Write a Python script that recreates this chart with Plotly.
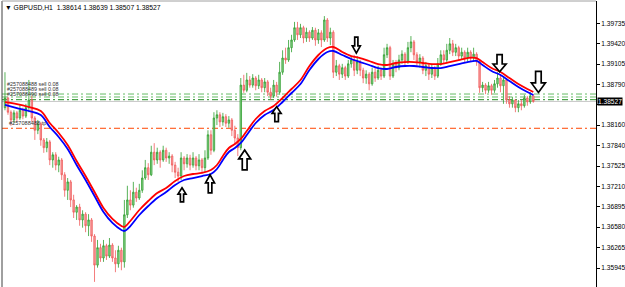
import plotly.graph_objects as go

# ---------------- data ----------------
symbol = "GBPUSD,H1"
first_open = 1.3843
closes = [
    1.3858, 1.3836, 1.3824, 1.3835, 1.3827, 1.3839, 1.3830, 1.3843, 1.3855, 1.3827,
    1.3808, 1.3818, 1.3793, 1.3781, 1.3790, 1.3762, 1.3770, 1.3754, 1.3762, 1.3739,
    1.3715, 1.3728, 1.3700, 1.3681, 1.3689, 1.3669, 1.3678, 1.3660, 1.3669, 1.3644,
    1.3599, 1.3626, 1.3610, 1.3629, 1.3613, 1.3630, 1.3610, 1.3601, 1.3622, 1.3604,
    1.3677, 1.3700, 1.3692, 1.3712, 1.3703, 1.3715, 1.3734, 1.3750, 1.3739, 1.3774,
    1.3762, 1.3774, 1.3762, 1.3777, 1.3765, 1.3768, 1.3754, 1.3743, 1.3737, 1.3765,
    1.3756, 1.3765, 1.3754, 1.3765, 1.3753, 1.3762, 1.3750, 1.3765, 1.3801, 1.3777,
    1.3827, 1.3832, 1.3821, 1.3829, 1.3819, 1.3824, 1.3808, 1.3796, 1.3781, 1.3878,
    1.3870, 1.3886, 1.3878, 1.3889, 1.3877, 1.3886, 1.3874, 1.3883, 1.3867, 1.3861,
    1.3878, 1.3867, 1.3898, 1.3920, 1.3917, 1.3936, 1.3948, 1.3967, 1.3956, 1.3967,
    1.3951, 1.3960, 1.3951, 1.3963, 1.3948, 1.3959, 1.3948, 1.3979, 1.3951, 1.3960,
    1.3898, 1.3908, 1.3895, 1.3905, 1.3892, 1.3911, 1.3917, 1.3901, 1.3914, 1.3901,
    1.3889, 1.3895, 1.3880, 1.3898, 1.3889, 1.3901, 1.3892, 1.3925, 1.3936, 1.3892,
    1.3911, 1.3905, 1.3917, 1.3926, 1.3914, 1.3936, 1.3945, 1.3925, 1.3914, 1.3920,
    1.3901, 1.3908, 1.3895, 1.3905, 1.3892, 1.3911, 1.3925, 1.3917, 1.3932, 1.3942,
    1.3929, 1.3936, 1.3923, 1.3929, 1.3920, 1.3929, 1.3920, 1.3926, 1.3914, 1.3874,
    1.3878, 1.3870, 1.3877, 1.3870, 1.3880, 1.3889, 1.3877, 1.3886, 1.3855, 1.3849,
    1.3855, 1.3843, 1.3849, 1.3846, 1.3858, 1.3852, 1.38614, 1.38527,
]
highs = [
    1.3898, 1.3860, 1.3839, 1.3839, 1.3838, 1.3847, 1.3843, 1.3849, 1.3886, 1.3861,
    1.3830, 1.3824, 1.3821, 1.3796, 1.3796, 1.3793, 1.3774, 1.3774, 1.3767, 1.3765,
    1.3743, 1.3734, 1.3731, 1.3708, 1.3692, 1.3694, 1.3684, 1.3681, 1.3678, 1.3672,
    1.3647, 1.3638, 1.3632, 1.3638, 1.3632, 1.3641, 1.3633, 1.3622, 1.3629, 1.3626,
    1.3700, 1.3722, 1.3715, 1.3728, 1.3719, 1.3725, 1.3746, 1.3762, 1.3757, 1.3784,
    1.3788, 1.3781, 1.3777, 1.3784, 1.3781, 1.3774, 1.3771, 1.3759, 1.3750, 1.3774,
    1.3768, 1.3771, 1.3770, 1.3774, 1.3768, 1.3771, 1.3765, 1.3777, 1.3808, 1.3808,
    1.3836, 1.3839, 1.3836, 1.3835, 1.3833, 1.3830, 1.3827, 1.3815, 1.3802, 1.3889,
    1.3894, 1.3897, 1.3892, 1.3895, 1.3892, 1.3894, 1.3889, 1.3889, 1.3886, 1.3874,
    1.3886, 1.3883, 1.3914, 1.3932, 1.3936, 1.3948, 1.3956, 1.3976, 1.3976, 1.3973,
    1.3970, 1.3967, 1.3963, 1.3968, 1.3967, 1.3965, 1.3963, 1.3985, 1.3982, 1.3967,
    1.3963, 1.3917, 1.3911, 1.3911, 1.3908, 1.3917, 1.3923, 1.3925, 1.3923, 1.3917,
    1.3905, 1.3901, 1.3898, 1.3905, 1.3905, 1.3908, 1.3905, 1.3936, 1.3942, 1.3939,
    1.3917, 1.3917, 1.3925, 1.3932, 1.3929, 1.3945, 1.3954, 1.3948, 1.3929, 1.3926,
    1.3923, 1.3914, 1.3911, 1.3911, 1.3908, 1.3920, 1.3932, 1.3932, 1.3942, 1.3951,
    1.3948, 1.3942, 1.3939, 1.3936, 1.3932, 1.3936, 1.3932, 1.3936, 1.3929, 1.3917,
    1.3883, 1.3881, 1.3883, 1.3880, 1.3886, 1.3898, 1.3895, 1.3892, 1.3889, 1.3861,
    1.3860, 1.3856, 1.3855, 1.3855, 1.3863, 1.3861, 1.3867, 1.38639,
]
lows = [
    1.3839, 1.3832, 1.3815, 1.3819, 1.3821, 1.3824, 1.3825, 1.3827, 1.3836, 1.3821,
    1.3793, 1.3802, 1.3784, 1.3773, 1.3774, 1.3754, 1.3750, 1.3746, 1.3743, 1.3731,
    1.3705, 1.3700, 1.3689, 1.3672, 1.3669, 1.3660, 1.3657, 1.3650, 1.3644, 1.3635,
    1.3573, 1.3595, 1.3604, 1.3604, 1.3607, 1.3610, 1.3604, 1.3588, 1.3595, 1.3591,
    1.3595, 1.3672, 1.3684, 1.3688, 1.3697, 1.3700, 1.3711, 1.3731, 1.3731, 1.3737,
    1.3754, 1.3756, 1.3750, 1.3759, 1.3759, 1.3756, 1.3743, 1.3734, 1.3728, 1.3731,
    1.3746, 1.3750, 1.3746, 1.3750, 1.3746, 1.3746, 1.3743, 1.3743, 1.3762, 1.3770,
    1.3774, 1.3816, 1.3813, 1.3815, 1.3813, 1.3812, 1.3799, 1.3785, 1.3768, 1.3777,
    1.3866, 1.3867, 1.3874, 1.3874, 1.3870, 1.3872, 1.3867, 1.3867, 1.3861, 1.3855,
    1.3858, 1.3860, 1.3863, 1.3894, 1.3911, 1.3914, 1.3929, 1.3945, 1.3948, 1.3951,
    1.3943, 1.3945, 1.3945, 1.3948, 1.3939, 1.3942, 1.3937, 1.3945, 1.3945, 1.3940,
    1.3889, 1.3892, 1.3886, 1.3889, 1.3886, 1.3889, 1.3905, 1.3892, 1.3895, 1.3892,
    1.3881, 1.3880, 1.3870, 1.3877, 1.3883, 1.3886, 1.3886, 1.3889, 1.3920, 1.3886,
    1.3889, 1.3898, 1.3901, 1.3911, 1.3908, 1.3911, 1.3929, 1.3917, 1.3908, 1.3905,
    1.3895, 1.3892, 1.3886, 1.3889, 1.3886, 1.3889, 1.3908, 1.3911, 1.3914, 1.3926,
    1.3923, 1.3923, 1.3917, 1.3917, 1.3914, 1.3914, 1.3914, 1.3914, 1.3908, 1.3866,
    1.3867, 1.3864, 1.3866, 1.3863, 1.3866, 1.3874, 1.3867, 1.3849, 1.3849, 1.3843,
    1.3843, 1.3836, 1.3836, 1.3839, 1.3843, 1.3846, 1.3849, 1.38507,
]
opens = [first_open] + closes[:-1]
bars = list(range(len(closes)))

# moving averages (sampled along the lines)
ma_bars = [0, 4, 8, 12, 15, 18, 21, 24, 27, 30, 33, 36, 39, 40, 42, 45, 48, 51, 54, 57,
           60, 63, 66, 69, 71, 73, 75, 77, 79, 81, 84, 87, 90, 93, 96, 99, 102, 105, 108, 110,
           113, 116, 119, 122, 125, 128, 131, 134, 137, 140, 143, 146, 149, 152, 155, 158, 160,
           163, 166, 169, 172, 175, 177]
ma_red = [1.38518, 1.38487, 1.38441, 1.38379, 1.38193, 1.38038, 1.37852, 1.37604, 1.37371, 1.37123,
          1.36875, 1.36705, 1.36596, 1.36581, 1.36674, 1.36844, 1.36984, 1.37108, 1.37185, 1.37294,
          1.37371, 1.37402, 1.37418, 1.37464, 1.37542, 1.37681, 1.37805, 1.37867, 1.37945, 1.38069,
          1.38255, 1.38379, 1.38456, 1.38580, 1.38720, 1.38859, 1.39076, 1.39247, 1.39355, 1.39371,
          1.39293, 1.39231, 1.39200, 1.39154, 1.39107, 1.39092, 1.39123, 1.39138, 1.39138, 1.39123,
          1.39107, 1.39107, 1.39138, 1.39169, 1.39200, 1.39200, 1.39138, 1.39045, 1.38983, 1.38890,
          1.38797, 1.38720, 1.38673]
ma_blue = [1.38472, 1.38425, 1.38379, 1.38317, 1.38131, 1.37976, 1.37790, 1.37542, 1.37309, 1.37061,
           1.36813, 1.36643, 1.36534, 1.36519, 1.36596, 1.36767, 1.36906, 1.37030, 1.37123, 1.37232,
           1.37309, 1.37340, 1.37371, 1.37402, 1.37480, 1.37619, 1.37743, 1.37805, 1.37883, 1.38007,
           1.38193, 1.38317, 1.38394, 1.38518, 1.38658, 1.38797, 1.39014, 1.39185, 1.39293, 1.39309,
           1.39247, 1.39185, 1.39138, 1.39092, 1.39045, 1.39030, 1.39061, 1.39076, 1.39076, 1.39061,
           1.39045, 1.39045, 1.39076, 1.39107, 1.39138, 1.39154, 1.39092, 1.38999, 1.38937, 1.38844,
           1.38751, 1.38673, 1.38627]

# signal arrows
arrow_bars = [59.3, 68.7, 80.3, 91.0, 117.7, 165.7, 178.7]
arrow_prices = [1.3708, 1.3725, 1.3762, 1.3833, 1.3940, 1.3912, 1.3883]
arrow_dirs = ["up", "up", "up", "up", "down", "down", "down"]

# order levels
sell_levels = [1.38642, 1.38596, 1.38554]
sell_labels = ["#257088488 sell 0.08", "#257088489 sell 0.08", "#257088490 sell 0.08"]
tp_level = 1.38111
tp_label = "#257088488 tp"

y_ticks = [1.39735, 1.39420, 1.39105, 1.38790, 1.38475, 1.38160, 1.37840,
           1.37525, 1.37210, 1.36895, 1.36580, 1.36265, 1.35945, 1.35630]
hidden_tick = 1.38475  # covered by the current-price tag

# ---------------- styles ----------------
arrow_w = [8, 9, 12, 9, 8, 13, 14]
arrow_h = [14, 18, 20, 15, 16, 17, 21]
sell_colors = ["#66bb66", "#66bb66", "#1f8a1f"]
FONT = "Liberation Sans"

fig = go.Figure()
fig.add_trace(go.Candlestick(
    x=bars, open=opens, high=highs, low=lows, close=closes,
    increasing=dict(line=dict(color="#2e9e2e", width=0.8), fillcolor="#92d492"),
    decreasing=dict(line=dict(color="#f05a5a", width=0.8), fillcolor="#f7a3a3"),
    whiskerwidth=0, hoverinfo="skip", showlegend=False))
fig.add_trace(go.Scatter(x=ma_bars, y=ma_blue, mode="lines",
                         line=dict(color="#0000ff", width=1.8, shape="spline"),
                         hoverinfo="skip", showlegend=False))
fig.add_trace(go.Scatter(x=ma_bars, y=ma_red, mode="lines",
                         line=dict(color="#ff0000", width=1.8, shape="spline"),
                         hoverinfo="skip", showlegend=False))

shapes = []
# order lines
for lvl, col in zip(sell_levels, sell_colors):
    shapes.append(dict(type="line", xref="paper", x0=0, x1=1, yref="y", y0=lvl, y1=lvl,
                       line=dict(color=col, width=1, dash="6px,3px,2px,3px"), layer="below"))
shapes.append(dict(type="line", xref="paper", x0=0, x1=1, yref="y", y0=closes[-1], y1=closes[-1],
                   line=dict(color="#c8c8c8", width=1), layer="below"))
shapes.append(dict(type="line", xref="paper", x0=0, x1=1, yref="y", y0=tp_level, y1=tp_level,
                   line=dict(color="#ff4500", width=1, dash="6px,3px,2px,3px"), layer="below"))
# frame
shapes.append(dict(type="line", xref="paper", yref="paper", x0=0, x1=0, y0=0, y1=1,
                   line=dict(color="#404040", width=1)))
shapes.append(dict(type="line", xref="paper", yref="paper", x0=0, x1=1, y0=1, y1=1,
                   line=dict(color="#a0a0a0", width=1)))


def arrow_path(w, h, up):
    s = 1 if up else -1
    hw, sw, hh = w / 2.0, w * 0.2, h * 0.45
    pts = [(0, s * h / 2), (hw, s * (h / 2 - hh)), (sw, s * (h / 2 - hh)), (sw, -s * h / 2),
           (-sw, -s * h / 2), (-sw, s * (h / 2 - hh)), (-hw, s * (h / 2 - hh))]
    return "M " + " L ".join(f"{px:.1f},{py:.1f}" for px, py in pts) + " Z"


for b, p, d, w, h in zip(arrow_bars, arrow_prices, arrow_dirs, arrow_w, arrow_h):
    shapes.append(dict(type="path", xref="x", yref="y", xsizemode="pixel", ysizemode="pixel",
                       xanchor=b, yanchor=p, path=arrow_path(w, h, d == "up"),
                       fillcolor="white", line=dict(color="black", width=1.7)))

annotations = []
# order labels, stacked just above the lowest order line
for k, txt in enumerate(reversed(sell_labels)):
    annotations.append(dict(x=0, xref="paper", y=min(sell_levels), yref="y", text=txt,
                            showarrow=False, xanchor="left", yanchor="bottom",
                            xshift=3, yshift=1 + 5 * k,
                            font=dict(family=FONT, size=5.4, color="#303030")))
annotations.append(dict(x=0, xref="paper", y=tp_level, yref="y", text=tp_label, showarrow=False,
                        xanchor="left", yanchor="bottom", xshift=5, yshift=0,
                        font=dict(family=FONT, size=5.6, color="#303030")))
# current price tag
annotations.append(dict(x=1, xref="paper", y=closes[-1], yref="y", text=f"{closes[-1]:.5f}",
                        showarrow=False, xanchor="left", yanchor="middle", xshift=1,
                        bgcolor="black", borderpad=0,
                        font=dict(family=FONT, size=6.6, color="white")))
# header
nb = "\u00a0"
header = (f"▼{nb}{symbol}{nb}{nb}{opens[-1]:.5f} {highs[-1]:.5f} "
          f"{lows[-1]:.5f} {closes[-1]:.5f}")
annotations.append(dict(x=0, xref="paper", y=1, yref="paper", text=header, showarrow=False,
                        xanchor="left", yanchor="top", xshift=1, yshift=-1,
                        font=dict(family=FONT, size=6.8, color="black")))

fig.update_layout(
    width=625, height=287,
    margin=dict(l=2, r=26, t=1, b=0),
    paper_bgcolor="white", plot_bgcolor="white",
    showlegend=False, hovermode=False,
    shapes=shapes, annotations=annotations,
    xaxis=dict(range=[-1, 198], visible=False, showgrid=False, zeroline=False,
               rangeslider=dict(visible=False), fixedrange=True),
    yaxis=dict(range=[1.356505, 1.40084], side="right", tickvals=y_ticks,
               ticktext=["" if v == hidden_tick else f"{v:.5f}" for v in y_ticks],
               ticks="outside", ticklen=3,
               tickcolor="black", showgrid=False, zeroline=False, showline=True,
               linecolor="black", linewidth=1, fixedrange=True,
               tickfont=dict(family=FONT, size=6.6, color="black")),
)

fig.write_html("out.html")
